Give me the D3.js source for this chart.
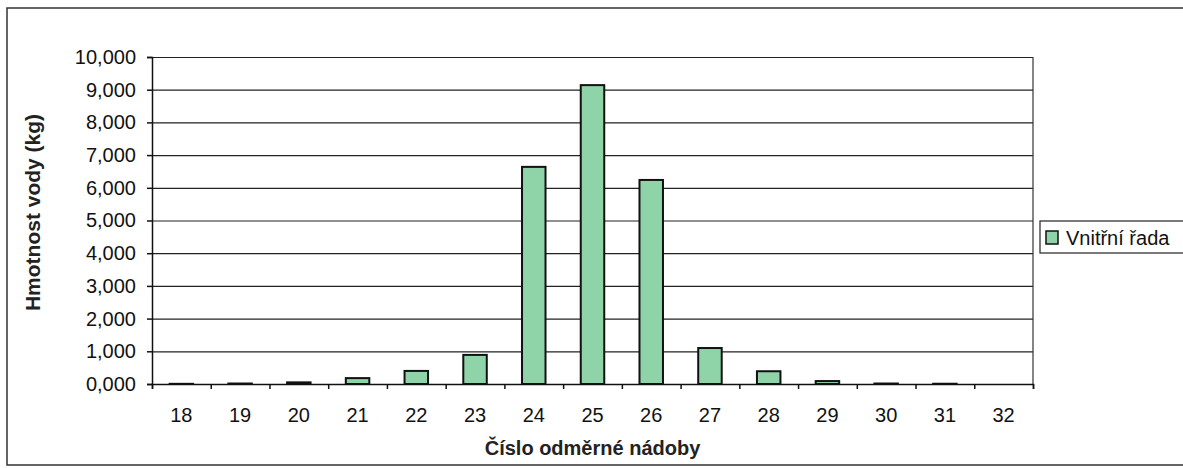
<!DOCTYPE html>
<html>
<head>
<meta charset="utf-8">
<script src="https://cdn.jsdelivr.net/npm/d3@7"></script>
<style>
  body { margin: 0; background: #fff; }
  svg { display: block; font-family: "Liberation Sans", Arial, sans-serif; }
</style>
</head>
<body>
<div id="chart"></div>
<script>
// Chart data
const categories = ['18', '19', '20', '21', '22', '23', '24', '25', '26', '27', '28', '29', '30', '31', '32'];
const vnitrniRada = [5, 15, 50, 180, 400, 890, 6640, 9140, 6240, 1100, 390, 90, 15, 8, 0];
const yTicks = [0, 1000, 2000, 3000, 4000, 5000, 6000, 7000, 8000, 9000, 10000];
const seriesName = 'Vnitřní řada';
const xTitle = 'Číslo odměrné nádoby';
const yTitle = 'Hmotnost vody (kg)';

const W = 1183, H = 468;
const margin = { top: 57, right: 150, bottom: 84, left: 152 };
const width = W - margin.left - margin.right;
const height = H - margin.top - margin.bottom;
const fontFamily = '"Liberation Sans", Arial, sans-serif';

// Czech number format: decimal comma
const czLocale = d3.formatLocale({ decimal: ',', thousands: '\u00a0', grouping: [3], currency: ['', ' Kč'] });
const fmt = czLocale.format('.3f');

const root = d3.select('#chart').append('svg')
    .attr('width', W)
    .attr('height', H);

// Outer chart frame
root.append('rect')
    .attr('x', 7).attr('y', 8)
    .attr('width', W + 10).attr('height', H - 11)
    .attr('fill', 'none')
    .attr('stroke', '#333')
    .attr('stroke-width', 1.5);

const svg = root.append('g')
    .attr('transform', `translate(${margin.left},${margin.top})`);

// Scales
const x = d3.scaleBand()
    .domain(categories)
    .range([0, width])
    .paddingInner(0.6)
    .paddingOuter(0.3);

const xEdge = d3.scaleLinear()
    .domain([0, categories.length])
    .range([0, width]);

const y = d3.scaleLinear()
    .domain([0, 10000])
    .range([height, 0]);

// Grid lines
svg.append('g')
    .attr('class', 'grid')
    .call(d3.axisLeft(y).tickValues(yTicks).tickSize(-width).tickFormat(''))
    .call(g => g.select('.domain').remove())
    .call(g => g.selectAll('line').attr('stroke', '#222').attr('stroke-width', 1.2));

// Plot area border (right side)
svg.append('line')
    .attr('x1', width).attr('x2', width)
    .attr('y1', 0).attr('y2', height)
    .attr('stroke', '#333').attr('stroke-width', 1.2);

// Bars
svg.selectAll('.bar')
    .data(vnitrniRada)
    .enter()
    .append('rect')
    .attr('class', 'bar')
    .attr('x', (d, i) => x(categories[i]))
    .attr('y', d => y(d))
    .attr('width', x.bandwidth())
    .attr('height', d => height - y(d))
    .attr('fill', '#8fd3a9')
    .attr('stroke', '#111')
    .attr('stroke-width', 2);

// Y axis
svg.append('g')
    .attr('class', 'axis')
    .call(d3.axisLeft(y).tickValues(yTicks).tickSize(5).tickPadding(11).tickFormat(d => fmt(d / 1000)))
    .call(g => g.select('.domain').attr('stroke', '#111').attr('stroke-width', 1.5))
    .call(g => g.selectAll('line').attr('stroke', '#111').attr('stroke-width', 1.5))
    .call(g => g.selectAll('text').attr('font-size', 20).attr('fill', '#111')
        .attr('font-family', fontFamily));

// X axis with ticks at category boundaries
const xAxisG = svg.append('g')
    .attr('transform', `translate(0,${height})`);

xAxisG.call(d3.axisBottom(xEdge).tickValues(d3.range(categories.length + 1)).tickSize(5).tickFormat(''))
    .call(g => g.select('.domain').attr('stroke', '#111').attr('stroke-width', 1.5))
    .call(g => g.selectAll('line').attr('stroke', '#111').attr('stroke-width', 1.5));

xAxisG.selectAll('.xlabel')
    .data(categories)
    .enter()
    .append('text')
    .attr('class', 'xlabel')
    .attr('x', d => x(d) + x.bandwidth() / 2)
    .attr('y', 38)
    .attr('text-anchor', 'middle')
    .attr('font-size', 20)
    .attr('fill', '#111')
    .text(d => d);

// Axis titles
svg.append('text')
    .attr('x', width / 2)
    .attr('y', height + 71)
    .attr('text-anchor', 'middle')
    .style('font-size', '20px')
    .style('font-weight', 'bold')
    .style('fill', '#222')
    .text(xTitle);

svg.append('text')
    .attr('transform', 'rotate(-90)')
    .attr('x', -height / 2 + 8)
    .attr('y', -112)
    .attr('text-anchor', 'middle')
    .style('font-size', '21px')
    .style('font-weight', 'bold')
    .style('fill', '#222')
    .text(yTitle);

// Legend
const legend = root.append('g')
    .attr('transform', 'translate(1040,221)');

legend.append('rect')
    .attr('width', 160).attr('height', 32)
    .attr('fill', '#fff')
    .attr('stroke', '#222').attr('stroke-width', 1.2);

legend.append('rect')
    .attr('x', 6).attr('y', 10)
    .attr('width', 12).attr('height', 13)
    .attr('fill', '#8fd3a9')
    .attr('stroke', '#111').attr('stroke-width', 1.5);

legend.append('text')
    .attr('x', 26).attr('y', 24)
    .attr('font-size', 20)
    .attr('fill', '#111')
    .text(seriesName);
</script>
</body>
</html>
